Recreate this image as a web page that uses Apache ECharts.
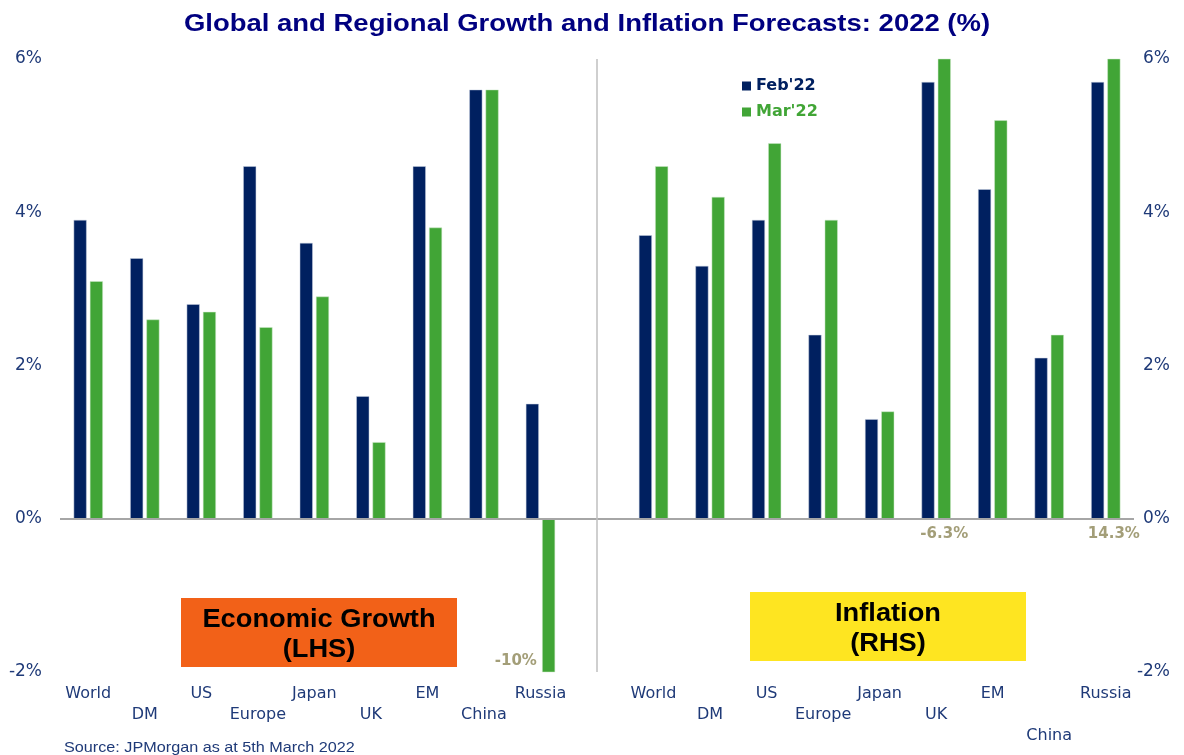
<!DOCTYPE html>
<html>
<head>
<meta charset="utf-8">
<script src="https://cdn.jsdelivr.net/npm/echarts@6/dist/echarts.min.js"></script>
<style>
html,body{margin:0;padding:0;background:#fff;}
#chart{width:1184px;height:755px;}
</style>
</head>
<body>
<div id="chart"></div>
<script>
// ---- Data ----
const growthCategories = ['World', 'DM', 'US', 'Europe', 'Japan', 'UK', 'EM', 'China', 'Russia'];
const inflationCategories = ['World', 'DM', 'US', 'Europe', 'Japan', 'UK', 'EM', 'China', 'Russia'];
const growthFeb = [3.9, 3.4, 2.8, 4.6, 3.6, 1.6, 4.6, 5.6, 1.5];
const growthMar = [3.1, 2.6, 2.7, 2.5, 2.9, 1.0, 3.8, 5.6, -10];
const inflationFeb = [3.7, 3.3, 3.9, 2.4, 1.3, 5.7, 4.3, 2.1, 5.7];
const inflationMar = [4.6, 4.2, 4.9, 3.9, 1.4, 6.3, 5.2, 2.4, 14.3];
const growthMarNotes = ['', '', '', '', '', '', '', '', '-10%'];
const inflationMarNotes = ['', '', '', '', '', '-6.3%', '', '', '14.3%'];
const yTicks = [-2, 0, 2, 4, 6];
const seriesNames = ["Feb'22", "Mar'22"];

// ---- Build ----
const FONT = "'Liberation Sans', Arial, sans-serif";
const WIDE = "'DejaVu Sans', 'Liberation Sans', sans-serif";
const NAVY = '#002060';
const GREEN = '#41A536';
const LABEL = '#1F3A78';
const NOTE = '#A39E78';

const categories = growthCategories.concat(['']).concat(inflationCategories);
const nLeft = growthCategories.length;

function noteItem(v, note, pos) {
  if (!note) return v;
  return { value: v, label: Object.assign({ show: true, formatter: note, color: NOTE, fontWeight: 'bold', fontSize: 15, fontFamily: WIDE }, pos) };
}
const febData = growthFeb.concat(['-']).concat(inflationFeb);
const marData = growthMar.map((v, i) => noteItem(v, growthMarNotes[i], { position: ['-40%', '93%'], align: 'right', verticalAlign: 'middle' }))
  .concat(['-'])
  .concat(inflationMar.map((v, i) => noteItem(v, inflationMarNotes[i], { position: 'bottom', distance: 8 })));

function rowPrefix(index) {
  if (index === nLeft) return '';
  const local = index < nLeft ? index : index - nLeft - 1;
  if (index > nLeft && local === 7) return '\n\n';
  return local % 2 === 1 ? '\n' : '';
}

const chart = echarts.init(document.getElementById('chart'), null, { renderer: 'canvas' });
const yAxisCommon = {
  type: 'value', min: yTicks[0], max: yTicks[yTicks.length - 1], interval: 2,
  splitLine: { show: false }, axisLine: { show: false }, axisTick: { show: false },
};
chart.setOption({
  animation: false,
  backgroundColor: '#ffffff',
  legend: {
    orient: 'vertical', left: 742, top: 78, padding: 0, itemWidth: 9, itemHeight: 9, itemGap: 10, icon: 'rect',
    itemStyle: { borderWidth: 0 },
    data: [
      { name: seriesNames[0], textStyle: { color: NAVY } },
      { name: seriesNames[1], textStyle: { color: GREEN } }
    ],
    textStyle: { fontSize: 16, fontWeight: 'bold', fontFamily: WIDE }
  },
  grid: { left: 60, right: 50, top: 59, bottom: 83, containLabel: false },
  xAxis: {
    type: 'category', data: categories,
    axisLine: { show: false }, axisTick: { show: false },
    axisLabel: {
      interval: 0, margin: 11, color: LABEL, fontSize: 16, lineHeight: 21, fontFamily: WIDE,
      formatter: (v, i) => rowPrefix(i) + v
    }
  },
  yAxis: [
    Object.assign({}, yAxisCommon, { position: 'left', axisLabel: { formatter: '{value}%', color: LABEL, fontSize: 17, fontFamily: WIDE, margin: 18 } }),
    Object.assign({}, yAxisCommon, { position: 'right', axisLabel: { formatter: '{value}%', color: LABEL, fontSize: 17, fontFamily: WIDE, margin: 36, align: 'right' } })
  ],
  series: [
    {
      name: seriesNames[0], type: 'bar', data: febData, barWidth: 13, barGap: '25%',
      itemStyle: { color: NAVY, borderColor: '#c8d0e0', borderWidth: 0.5 }
    },
    {
      name: seriesNames[1], type: 'bar', data: marData, barWidth: 13, barGap: '25%',
      itemStyle: { color: GREEN, borderColor: '#cfe8cb', borderWidth: 0.5 }
    },
    {
      name: 'axes', type: 'line', data: [], silent: true,
      markLine: {
        silent: true, symbol: 'none', label: { show: false },
        data: [
          { yAxis: 0, lineStyle: { color: '#A6A6A6', width: 2, type: 'solid' } },
          { xAxis: nLeft, lineStyle: { color: '#BFBFBF', width: 1.5, type: 'solid' } }
        ]
      }
    }
  ],
  graphic: [
    { type: 'text', x: 587, y: 24, scaleX: 1.145, style: { text: 'Global and Regional Growth and Inflation Forecasts: 2022 (%)', fill: '#000080', font: 'bold 24px ' + FONT, textAlign: 'center', textVerticalAlign: 'middle' } },
    { type: 'rect', shape: { x: 181, y: 598, width: 276, height: 69 }, style: { fill: '#F26118' } },
    { type: 'text', x: 319, y: 635, scaleX: 1.09, style: { text: 'Economic Growth\n(LHS)', fill: '#000', font: 'bold 25px ' + FONT, textAlign: 'center', textVerticalAlign: 'middle', lineHeight: 30 } },
    { type: 'rect', shape: { x: 750, y: 592, width: 276, height: 69 }, style: { fill: '#FEE521' } },
    { type: 'text', x: 888, y: 629, scaleX: 1.09, style: { text: 'Inflation\n(RHS)', fill: '#000', font: 'bold 25px ' + FONT, textAlign: 'center', textVerticalAlign: 'middle', lineHeight: 30 } },
    { type: 'text', x: 64, y: 740, scaleX: 1.08, style: { text: 'Source: JPMorgan as at 5th March 2022', fill: LABEL, font: '15px ' + FONT } }
  ]
});
</script>
</body>
</html>
